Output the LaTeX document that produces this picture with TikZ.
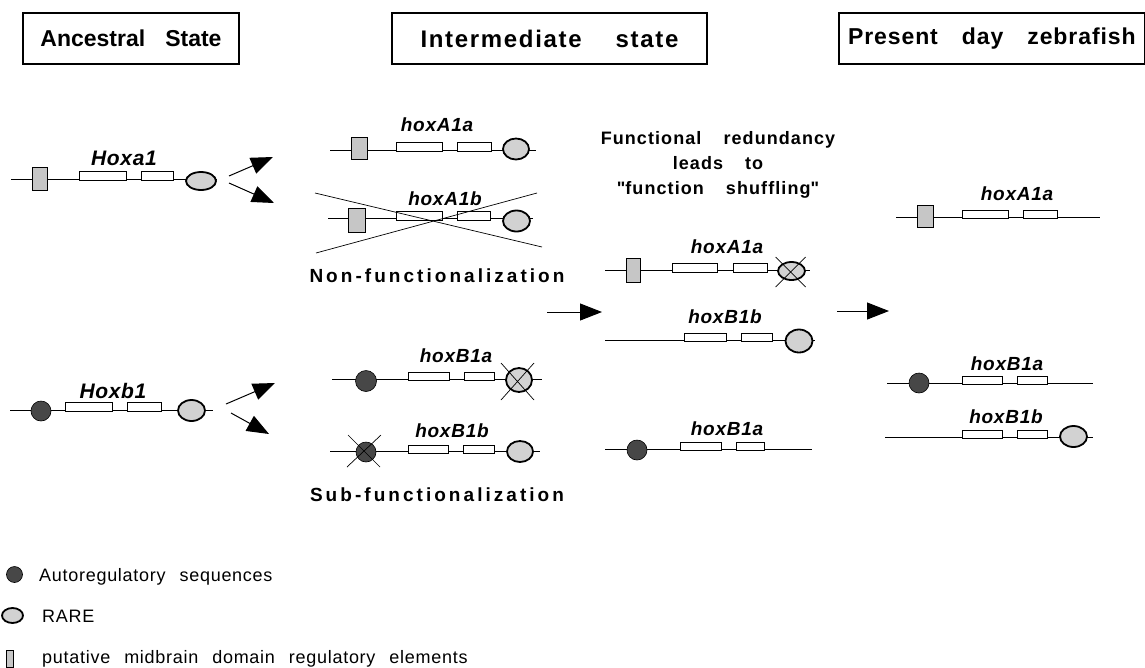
\documentclass[tikz,border=0pt]{standalone}
\usepackage{fontspec}
\setmainfont{Liberation Sans}
\usepackage{tikz}
\usetikzlibrary{
    shapes.geometric,
    arrows.meta,
    calc,
    positioning
}
\newcommand{\titlefont}{\fontsize{23}{27}\selectfont\bfseries}
\newcommand{\genefont}{\fontsize{19}{22}\selectfont\bfseries\itshape\addfontfeatures{LetterSpace=4}}
\newcommand{\ancfont}{\fontsize{21}{24}\selectfont\bfseries\itshape\addfontfeatures{LetterSpace=3}}
\newcommand{\stepfont}{\fontsize{19}{22}\selectfont\bfseries\addfontfeatures{LetterSpace=16}}
\newcommand{\notefont}{\fontsize{18}{25}\selectfont\bfseries\addfontfeatures{LetterSpace=6}\spaceskip=22pt}
\newcommand{\legendfont}{\fontsize{18}{21}\selectfont\addfontfeatures{LetterSpace=4}\spaceskip=14pt}
\tikzset{
    titlebox/.style={draw, line width=2pt, minimum height=51pt, font=\titlefont},
    gene/.style={line width=0.8pt},
    exon/.style={draw, fill=white, line width=0.7pt, inner sep=0pt, minimum height=9pt},
    midbrain/.style={draw, fill=gray!45, line width=0.8pt, inner sep=0pt, minimum width=15pt, minimum height=23pt},
    rare/.style={draw, ellipse, fill=gray!35, line width=1.8pt, inner sep=0pt, minimum width=27pt, minimum height=21pt},
    autoreg/.style={draw, circle, fill=black!72, line width=0.6pt, inner sep=0pt, minimum size=20pt},
    genename/.style={font=\genefont, inner sep=0pt},
    ancname/.style={font=\ancfont, inner sep=0pt},
    stepname/.style={font=\stepfont, inner sep=0pt},
    legend/.style={font=\legendfont, inner sep=0pt},
    knockout/.style={line width=0.7pt},
    bigarrow/.style={-{Triangle[length=22pt, width=17pt]}, line width=1pt}
}

\begin{document}
\begin{tikzpicture}[x=1pt, y=-1pt]
    \useasboundingbox (0,0) rectangle (1145,667);

    % column headers
    \node[titlebox, minimum width=216pt] (anc) at (131,38.5) {Ancestral\hspace{20pt}State};
    \node[titlebox, minimum width=315pt] (mid) at (549.5,38.5)
        {\fontsize{24}{27}\selectfont\addfontfeatures{LetterSpace=7}Intermediate\hspace{34pt}state};
    \node[titlebox, anchor=west, inner xsep=9pt] (now) at (838,38.5)
        {\addfontfeatures{LetterSpace=4}Present\hspace{24pt}day\hspace{24pt}zebrafish};

    % ancestral Hoxa1
    \coordinate (a1l) at (11,179);
    \coordinate (a1r) at (217,179);
    \draw[gene] (a1l) -- (a1r);
    \node[midbrain] (a1m) at (39.5,178.5) {};
    \node[exon, minimum width=47pt] (a1x1) at (102.5,176) {};
    \node[exon, minimum width=32pt] (a1x2) at (157,176) {};
    \node[rare, minimum width=30pt, minimum height=18pt] (a1rare) at (201,181) {};
    \node[ancname] (a1name) at (124,158) {Hoxa1};

    % ancestral Hoxb1
    \coordinate (b1l) at (10,410);
    \coordinate (b1r) at (213,410);
    \draw[gene] (b1l) -- (b1r);
    \node[autoreg] (b1ball) at (41,411) {};
    \node[exon, minimum width=47pt] (b1x1) at (88.5,407) {};
    \node[exon, minimum width=34pt] (b1x2) at (144,407) {};
    \node[rare] (b1rare) at (191.5,410.5) {};
    \node[ancname] (b1name) at (113,391) {Hoxb1};

    % duplication
    \coordinate (a1s) at (229,176);
    \coordinate (a1t) at (273,157);
    \coordinate (a1u) at (229,183);
    \coordinate (a1v) at (274,203);
    \coordinate (b1s) at (226,404);
    \coordinate (b1t) at (275,383);
    \coordinate (b1u) at (231,413);
    \coordinate (b1v) at (269,434);
    \draw
    (a1s) edge[bigarrow] (a1t)
    (a1u) edge[bigarrow] (a1v)
    (b1s) edge[bigarrow] (b1t)
    (b1u) edge[bigarrow] (b1v);

    % hoxA1a
    \coordinate (mal) at (330,150);
    \coordinate (mar) at (536,150);
    \draw[gene] (mal) -- (mar);
    \node[midbrain, minimum width=16pt, minimum height=22pt] (mam) at (359,148) {};
    \node[exon, minimum width=46pt] (max1) at (419,147) {};
    \node[exon, minimum width=34pt] (max2) at (474,147) {};
    \node[rare, minimum width=26pt] (marare) at (516,149) {};
    \node[genename] (maname) at (437,125) {hoxA1a};

    % hoxA1b, lost
    \coordinate (mbl) at (328,218);
    \coordinate (mbr) at (533,218);
    \draw[gene] (mbl) -- (mbr);
    \node[midbrain, minimum width=17pt, minimum height=24pt] (mbm) at (356.5,220) {};
    \node[exon, minimum width=46pt] (mbx1) at (419,216) {};
    \node[exon, minimum width=33pt] (mbx2) at (473.5,216) {};
    \node[rare] (mbrare) at (516.5,221) {};
    \node[genename] (mbname) at (445,199) {hoxA1b};
    \coordinate (mbc1) at (315,193);
    \coordinate (mbc2) at (542,247);
    \coordinate (mbc3) at (316,253);
    \coordinate (mbc4) at (537,193);
    \draw[knockout] (mbc1) -- (mbc2) (mbc3) -- (mbc4);
    \node[stepname] (nonfun) at (437,276) {Non-functionalization};

    % hoxB1a
    \coordinate (mcl) at (332,379);
    \coordinate (mcr) at (542,379);
    \draw[gene] (mcl) -- (mcr);
    \node[autoreg, minimum size=21pt] (mcball) at (366,381) {};
    \node[exon, minimum width=41pt, minimum height=8pt] (mcx1) at (428.5,376) {};
    \node[exon, minimum width=30pt, minimum height=8pt] (mcx2) at (479,376) {};
    \node[rare, minimum width=26pt, minimum height=24pt] (mcrare) at (519,380) {};
    \draw[knockout] ($(mcrare)+(-18,-17)$) -- ($(mcrare)+(15,20)$)
                    ($(mcrare)+(15,-17)$) -- ($(mcrare)+(-18,20)$);
    \node[genename] (mcname) at (456,356) {hoxB1a};

    % hoxB1b
    \coordinate (mdl) at (330,451);
    \coordinate (mdr) at (540,451);
    \draw[gene] (mdl) -- (mdr);
    \node[autoreg] (mdball) at (366,452) {};
    \draw[knockout] ($(mdball)+(-18,-17)$) -- ($(mdball)+(14,15)$)
                    ($(mdball)+(15,-17)$) -- ($(mdball)+(-19,15)$);
    \node[exon, minimum width=40pt, minimum height=8pt] (mdx1) at (428,449) {};
    \node[exon, minimum width=31pt, minimum height=8pt] (mdx2) at (478.5,449) {};
    \node[rare, minimum width=26pt] (mdrare) at (520,451.5) {};
    \node[genename] (mdname) at (452,431) {hoxB1b};
    \node[stepname] (subfun) at (437,495) {Sub-functionalization};

    % function shuffling
    \node[font=\notefont, align=center, inner sep=0pt] (shuffle) at (718,165)
        {Functional redundancy\\leads to\\\textquotedbl function shuffling\textquotedbl};

    \coordinate (sal) at (605,270);
    \coordinate (sar) at (810,270);
    \draw[gene] (sal) -- (sar);
    \node[midbrain, minimum width=14pt, minimum height=24pt] (sam) at (633,270) {};
    \node[exon, minimum width=45pt] (sax1) at (694.5,268) {};
    \node[exon, minimum width=34pt] (sax2) at (750,268) {};
    \node[rare, minimum height=18pt] (sarare) at (791.5,271) {};
    \draw[knockout] ($(sarare)+(-16,-14)$) -- ($(sarare)+(14,16)$)
                    ($(sarare)+(14,-14)$) -- ($(sarare)+(-16,16)$);
    \node[genename] (saname) at (727,247) {hoxA1a};

    \coordinate (sbl) at (605,340);
    \coordinate (sbr) at (815,340);
    \draw[gene] (sbl) -- (sbr);
    \node[exon, minimum width=42pt, minimum height=8pt] (sbx1) at (705,337) {};
    \node[exon, minimum width=31pt, minimum height=8pt] (sbx2) at (756.5,337) {};
    \node[rare, minimum height=23pt] (sbrare) at (799,341) {};
    \node[genename] (sbname) at (725,317) {hoxB1b};

    \coordinate (scl) at (605,449);
    \coordinate (scr) at (812,449);
    \draw[gene] (scl) -- (scr);
    \node[autoreg] (scball) at (637,450) {};
    \node[exon, minimum width=41pt, minimum height=8pt] (scx1) at (700.5,446) {};
    \node[exon, minimum width=28pt, minimum height=8pt] (scx2) at (750,446) {};
    \node[genename] (scname) at (727,429) {hoxB1a};

    \coordinate (ms) at (547,312);
    \coordinate (mt) at (602,312);
    \coordinate (ss) at (837,311);
    \coordinate (st) at (889,311);
    \draw
    (ms) edge[bigarrow] (mt)
    (ss) edge[bigarrow] (st);

    % present day zebrafish
    \coordinate (zal) at (896,217);
    \coordinate (zar) at (1100,217);
    \draw[gene] (zal) -- (zar);
    \node[midbrain, minimum width=16pt, minimum height=22pt] (zam) at (925,216) {};
    \node[exon, minimum width=46pt, minimum height=8pt] (zax1) at (985,214.5) {};
    \node[exon, minimum width=34pt, minimum height=8pt] (zax2) at (1040,214.5) {};
    \node[genename] (zaname) at (1017,194) {hoxA1a};

    \coordinate (zbl) at (887,383);
    \coordinate (zbr) at (1093,383);
    \draw[gene] (zbl) -- (zbr);
    \node[autoreg] (zbball) at (919,383) {};
    \node[exon, minimum width=40pt, minimum height=8pt] (zbx1) at (982,380.5) {};
    \node[exon, minimum width=30pt, minimum height=8pt] (zbx2) at (1032,380.5) {};
    \node[genename] (zbname) at (1007,364) {hoxB1a};

    \coordinate (zcl) at (885,437);
    \coordinate (zcr) at (1093,437);
    \draw[gene] (zcl) -- (zcr);
    \node[exon, minimum width=40pt, minimum height=8pt] (zcx1) at (982,434) {};
    \node[exon, minimum width=30pt, minimum height=8pt] (zcx2) at (1032,434) {};
    \node[rare] (zcrare) at (1073.5,436.5) {};
    \node[genename] (zcname) at (1006,417) {hoxB1b};

    % key
    \node[autoreg, minimum size=16pt] (keyball) at (14.5,574.5) {};
    \node[legend, anchor=base west] (keyballtext) at (39,581) {Autoregulatory sequences};
    \node[rare, minimum width=21pt, minimum height=15pt] (keyrare) at (12.5,615.5) {};
    \node[legend, anchor=base west] (keyraretext) at (42,622) {RARE};
    \node[midbrain, minimum width=7pt, minimum height=17pt, line width=0.5pt] (keymid) at (9.5,659) {};
    \node[legend, anchor=base west] (keymidtext) at (42,663) {putative midbrain domain regulatory elements};
\end{tikzpicture}
\end{document}
